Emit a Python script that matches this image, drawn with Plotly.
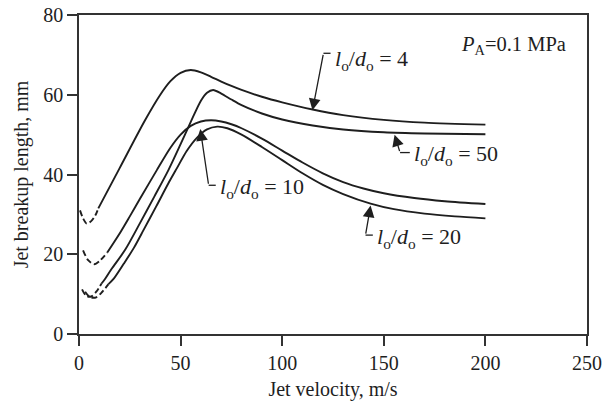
import plotly.graph_objects as go

# ---------------- data ----------------
# lo/do = 4
v4_dash = [0.5, 2.0, 3.8, 6.0, 8.0, 9.5]
L4_dash = [31.0, 29.0, 27.7, 28.3, 29.7, 31.5]
v4 = [9.5, 20, 32.5, 40, 45, 50, 55, 60, 65, 70, 75, 80, 90, 100, 115, 130, 150, 170, 200]
L4 = [31.5, 41.6, 53.6, 60.0, 63.4, 65.5, 66.2, 65.6, 64.5, 63.3, 62.2, 61.2, 59.5, 58.1, 56.3, 54.9, 53.7, 53.0, 52.5]

# lo/do = 50
v50_dash = [1.5, 3.5, 6.0, 8.5, 11.0]
L50_dash = [11.2, 9.6, 9.4, 10.6, 12.6]
v50 = [11.0, 12.8, 16, 22.7, 30, 37, 44, 50, 55, 60, 63, 66, 70, 75, 80, 90, 100, 115, 130, 150, 170, 200]
L50 = [12.6, 13.8, 16.3, 21.1, 27.8, 34.4, 41.1, 47.6, 53.2, 58.5, 60.5, 61.2, 60.3, 58.8, 57.4, 55.3, 53.8, 52.3, 51.3, 50.6, 50.3, 50.1]

# lo/do = 10
v10_dash = [2.0, 4.5, 7.5, 10.5, 14.0]
L10_dash = [21.0, 18.5, 17.5, 18.5, 20.5]
v10 = [14, 20, 25, 30, 38.3, 45, 50, 55, 60, 65, 70, 75, 80, 90, 100, 110, 120, 130, 140, 150, 165, 180, 200]
L10 = [20.5, 25.2, 29.5, 33.9, 41.1, 46.7, 50.0, 52.2, 53.3, 53.6, 53.3, 52.6, 51.6, 49.0, 46.0, 43.0, 40.3, 38.1, 36.5, 35.3, 34.1, 33.3, 32.6]

# lo/do = 20
v20_dash = [3.0, 5.5, 8.5, 11.5, 14.5]
L20_dash = [10.6, 9.2, 9.2, 10.6, 12.5]
v20 = [14.5, 17, 22, 27, 32, 38, 44, 48.2, 53, 58, 63, 68, 73, 80, 90, 100, 110, 120, 130, 143.5, 155, 170, 185, 200]
L20 = [12.5, 13.8, 17.6, 21.6, 26.3, 32.0, 37.8, 41.6, 45.9, 49.2, 51.3, 52.0, 51.6, 50.0, 46.9, 43.6, 40.3, 37.4, 35.1, 32.7, 31.3, 30.2, 29.5, 29.0]

x_ticks = [0, 50, 100, 150, 200, 250]
y_ticks = [0, 20, 40, 60, 80]

FONT = "Liberation Serif"
INK = "#1e1e1e"

fig = go.Figure()

def add_curve(vd, ld, v, l):
    fig.add_trace(go.Scatter(x=vd, y=ld, mode="lines",
                             line=dict(color=INK, width=1.9, dash="6px,3px", shape="spline", smoothing=0.8),
                             showlegend=False, hoverinfo="skip"))
    fig.add_trace(go.Scatter(x=v, y=l, mode="lines",
                             line=dict(color=INK, width=1.9, shape="spline", smoothing=0.8),
                             showlegend=False, hoverinfo="skip"))

add_curve(v4_dash, L4_dash, v4, L4)
add_curve(v50_dash, L50_dash, v50, L50)
add_curve(v10_dash, L10_dash, v10, L10)
add_curve(v20_dash, L20_dash, v20, L20)

label = "<i>l</i><sub>o</sub>/<i>d</i><sub>o</sub> = {}"

# (text value, arrow tip, bend corner, stub end, text anchor)
callouts = [
    ("4",  (114.9, 56.1), (120.3, 70.4), (123.8, 70.4), (124.8, 68.8)),
    ("50", (155.3, 50.0), (158.0, 45.5), (162.8, 45.5), (164.0, 45.0)),
    ("10", (59.7, 51.4),  (63.8, 37.3),  (67.3, 37.3),  (68.5, 36.6)),
    ("20", (143.5, 32.2), (141.0, 24.8), (144.6, 24.8), (145.8, 24.2)),
]

annotations = []
shapes = []
for val, tip, corner, stub, txt in callouts:
    annotations.append(dict(x=tip[0], y=tip[1], ax=corner[0], ay=corner[1],
                            xref="x", yref="y", axref="x", ayref="y",
                            text="", showarrow=True, arrowhead=2, arrowsize=1.8,
                            arrowwidth=1.3, arrowcolor=INK, standoff=0))
    shapes.append(dict(type="line", xref="x", yref="y", x0=corner[0], y0=corner[1],
                       x1=stub[0], y1=stub[1], line=dict(color=INK, width=1.3)))
    annotations.append(dict(x=txt[0], y=txt[1], xref="x", yref="y", text=label.format(val),
                            showarrow=False, xanchor="left", yanchor="middle",
                            font=dict(family=FONT, size=22, color=INK)))

annotations.append(dict(x=0.962, y=0.905, xref="paper", yref="paper",
                        text="<i>P</i><sub>A</sub>=0.1 MPa", showarrow=False,
                        xanchor="right", yanchor="middle",
                        font=dict(family=FONT, size=20.5, color=INK)))

axis_common = dict(showline=True, linecolor="#333", linewidth=1.6, mirror=True,
                   ticks="outside", ticklen=10, tickwidth=1.5, tickcolor="#333",
                   showgrid=False, zeroline=False, automargin=False,
                   tickfont=dict(family=FONT, size=20, color=INK))

fig.update_layout(
    width=603, height=404,
    margin=dict(l=79, r=16, t=15, b=70),
    paper_bgcolor="white", plot_bgcolor="white",
    xaxis=dict(range=[0, 250], tickvals=x_ticks,
               title=dict(text="Jet velocity, m/s", standoff=9,
                          font=dict(family=FONT, size=20, color=INK)),
               **axis_common),
    yaxis=dict(range=[0, 80], tickvals=y_ticks,
               title=dict(text="Jet breakup length, mm", standoff=9,
                          font=dict(family=FONT, size=20, color=INK)),
               **axis_common),
    annotations=annotations,
    shapes=shapes,
)

fig.write_html("out.html")
